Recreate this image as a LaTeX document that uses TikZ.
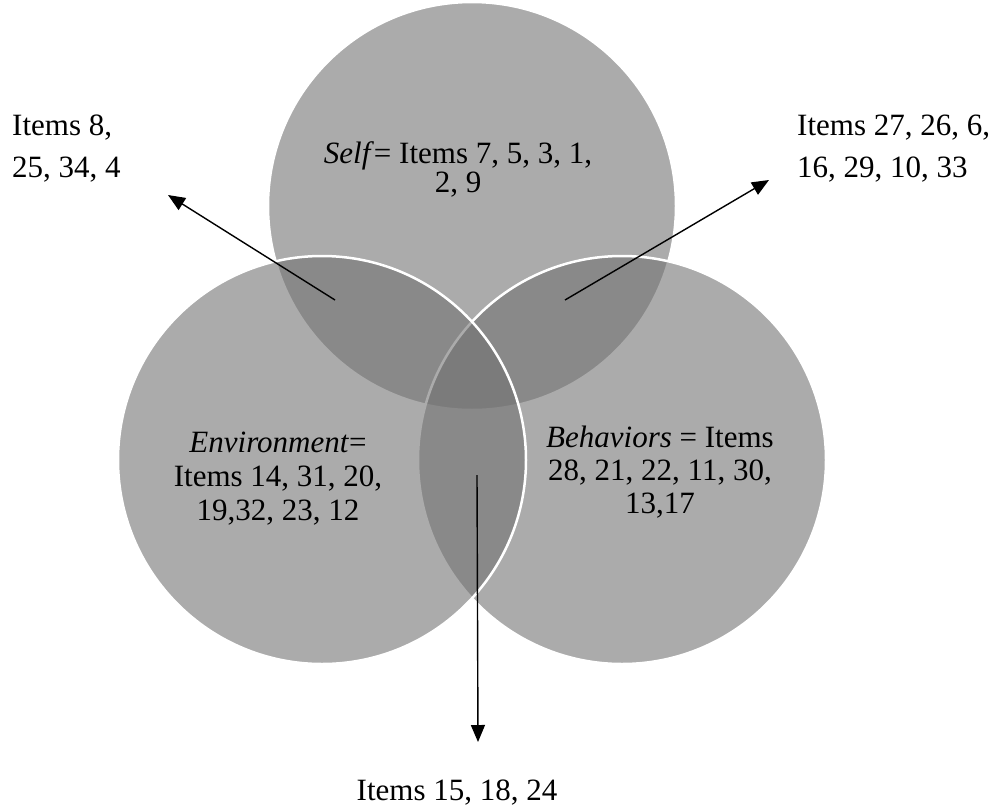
\documentclass[tikz,border=0pt]{standalone}
\usepackage{fontspec}
\setmainfont{Liberation Serif}
\usetikzlibrary{arrows.meta}
\definecolor{vgray}{gray}{0.45}
\begin{document}
\begin{tikzpicture}[x=1pt,y=-1pt,
  venn/.style={fill=vgray, fill opacity=0.6, draw=white, line width=2.5pt},
  lbl/.style={inner sep=0pt, anchor=base, text=black},
  lblw/.style={inner sep=0pt, anchor=base west, text=black},
  pointer/.style={line width=1.4pt, draw=black, -{Triangle[length=17pt,width=14pt]}}]
\fill[white] (0,0) rectangle (999,807);
\useasboundingbox (0,0) rectangle (999,807);
% circles: Self (top), Behaviors (right), Environment (left)
\coordinate (cself) at (472,206);
\coordinate (cbeh) at (622,460);
\coordinate (cenv) at (322,460);
\draw[venn] (cself) circle[radius=204pt];
\draw[venn] (cbeh) circle[radius=204pt];
\draw[venn] (cenv) circle[radius=204pt];
% circle labels
\node[lbl, font=\fontsize{31}{29}\selectfont] (self) at (458,163)
  {\begin{tabular}[t]{@{}c@{}}\textit{Self}= Items 7, 5, 3, 1,\\ 2, 9\end{tabular}};
\node[lbl, font=\fontsize{31}{34}\selectfont] (env) at (278,452)
  {\begin{tabular}[t]{@{}c@{}}\textit{Environment}=\\ Items 14, 31, 20,\\ 19,32, 23, 12\end{tabular}};
\node[lbl, font=\fontsize{31}{33}\selectfont] (beh) at (660,447)
  {\begin{tabular}[t]{@{}c@{}}\textit{Behaviors} = Items\\ 28, 21, 22, 11, 30,\\ 13,17\end{tabular}};
% outer labels
\node[lblw, font=\fontsize{31}{42}\selectfont] (se) at (12,135)
  {\begin{tabular}[t]{@{}l@{}}Items 8,\\ 25, 34, 4\end{tabular}};
\node[lblw, font=\fontsize{31}{42}\selectfont] (sb) at (797,135)
  {\begin{tabular}[t]{@{}l@{}}Items 27, 26, 6,\\ 16, 29, 10, 33\end{tabular}};
\node[lbl, font=\fontsize{31}{42}\selectfont] (eb) at (457,800) {Items 15, 18, 24};
% arrows
\coordinate (t1) at (335,300); \coordinate (h1) at (168,195);
\coordinate (t2) at (565,300); \coordinate (h2) at (769,180);
\coordinate (t3) at (477,475); \coordinate (h3) at (478,742);
\draw[pointer] (t1) -- (h1);
\draw[pointer] (t2) -- (h2);
\draw[pointer] (t3) -- (h3);
\end{tikzpicture}
\end{document}
